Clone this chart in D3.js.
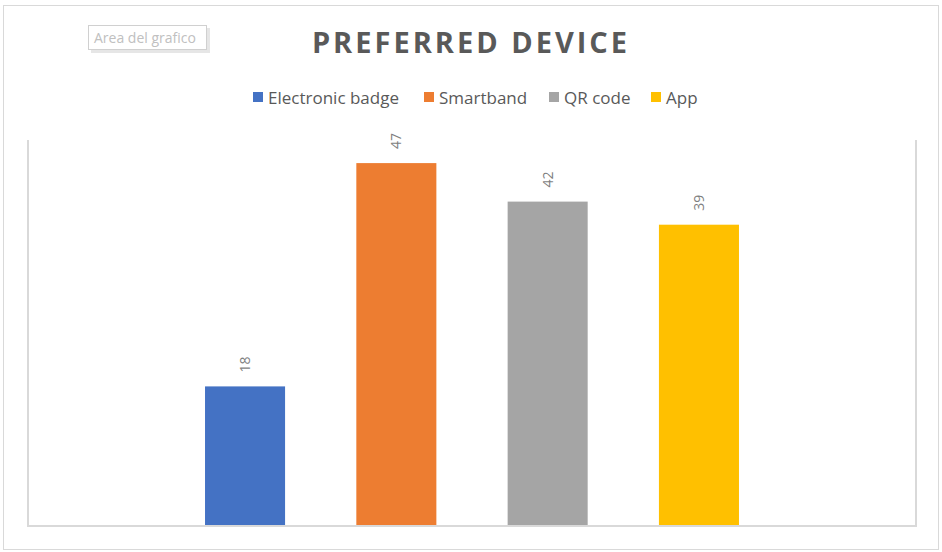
<!DOCTYPE html>
<html>
<head>
<meta charset="utf-8">
<script src="https://cdn.jsdelivr.net/npm/d3@7"></script>
<style>
  body { margin: 0; background: #fff; }
  svg { display: block; }
</style>
</head>
<body>
<script>
// chart data
const devices = ['Electronic badge', 'Smartband', 'QR code', 'App'];
const counts = [18, 47, 42, 39];
const colors = ['#4472C4', '#ED7D31', '#A5A5A5', '#FFC000'];

const W = 942, H = 552;
const plot = { left: 28, right: 916, top: 140, bottom: 525 };

const svg = d3.select('body').append('svg')
    .attr('width', W)
    .attr('height', H);

// outer chart border
svg.append('rect')
    .attr('x', 3.5).attr('y', 5.5)
    .attr('width', 935).attr('height', 544)
    .attr('fill', '#fff')
    .attr('stroke', '#d9d9d9')
    .attr('stroke-width', 1);

const x = d3.scaleBand()
    .domain(devices)
    .range([plot.left, plot.right])
    .paddingInner(0.471)
    .paddingOuter(1.17);

const y = d3.scaleLinear()
    .domain([0, 50])
    .range([plot.bottom, plot.top]);

// plot frame: left and right verticals, baseline
const frame = svg.append('g')
    .attr('stroke', '#d9d9d9')
    .attr('stroke-width', 2)
    .attr('fill', 'none');
frame.append('line')
    .attr('x1', plot.left).attr('x2', plot.left)
    .attr('y1', plot.top).attr('y2', plot.bottom);
frame.append('line')
    .attr('x1', plot.right).attr('x2', plot.right)
    .attr('y1', plot.top).attr('y2', plot.bottom);

// bars
svg.append('g').selectAll('rect')
    .data(devices)
    .join('rect')
    .attr('x', d => x(d))
    .attr('y', (d, i) => y(counts[i]))
    .attr('width', x.bandwidth())
    .attr('height', (d, i) => y(0) - y(counts[i]))
    .attr('fill', (d, i) => colors[i]);

frame.append('line')
    .attr('x1', plot.left - 1).attr('x2', plot.right + 1)
    .attr('y1', plot.bottom + 1).attr('y2', plot.bottom + 1);

// value labels, rotated
svg.append('g').selectAll('text')
    .data(devices)
    .join('text')
    .attr('transform', (d, i) =>
        'translate(' + (x(d) + x.bandwidth() / 2 + 5) + ',' + (y(counts[i]) - 14) + ') rotate(-90)')
    .attr('font-family', 'Open Sans, sans-serif')
    .attr('font-size', 14)
    .attr('fill', '#7f7f7f')
    .text((d, i) => counts[i]);

// title
svg.append('text')
    .attr('x', 471)
    .attr('y', 53)
    .attr('text-anchor', 'middle')
    .attr('font-family', 'Open Sans, sans-serif')
    .attr('font-weight', 'bold')
    .attr('font-size', 29)
    .attr('letter-spacing', 3)
    .attr('fill', '#595959')
    .text('PREFERRED DEVICE');

// legend
const legendX = [253, 424, 549, 651];
const legend = svg.append('g').selectAll('g')
    .data(devices)
    .join('g')
    .attr('transform', (d, i) => 'translate(' + legendX[i] + ',92)');
legend.append('rect')
    .attr('width', 10).attr('height', 10)
    .attr('fill', (d, i) => colors[i]);
legend.append('text')
    .attr('x', 15)
    .attr('y', 11.5)
    .attr('font-family', 'Open Sans, sans-serif')
    .attr('font-size', 17)
    .attr('fill', '#595959')
    .text(d => d);

// "Area del grafico" tooltip
const tip = svg.append('g').attr('transform', 'translate(88,25)');
tip.append('rect')
    .attr('x', 3).attr('y', 3)
    .attr('width', 119).attr('height', 25)
    .attr('fill', '#e6e6e6');
tip.append('rect')
    .attr('x', 0.5).attr('y', 0.5)
    .attr('width', 118).attr('height', 24)
    .attr('fill', '#fff')
    .attr('stroke', '#d0d0d0');
tip.append('text')
    .attr('x', 6).attr('y', 18)
    .attr('font-family', 'Open Sans, sans-serif')
    .attr('font-size', 14)
    .attr('fill', '#c0c0c0')
    .text('Area del grafico');
</script>
</body>
</html>
